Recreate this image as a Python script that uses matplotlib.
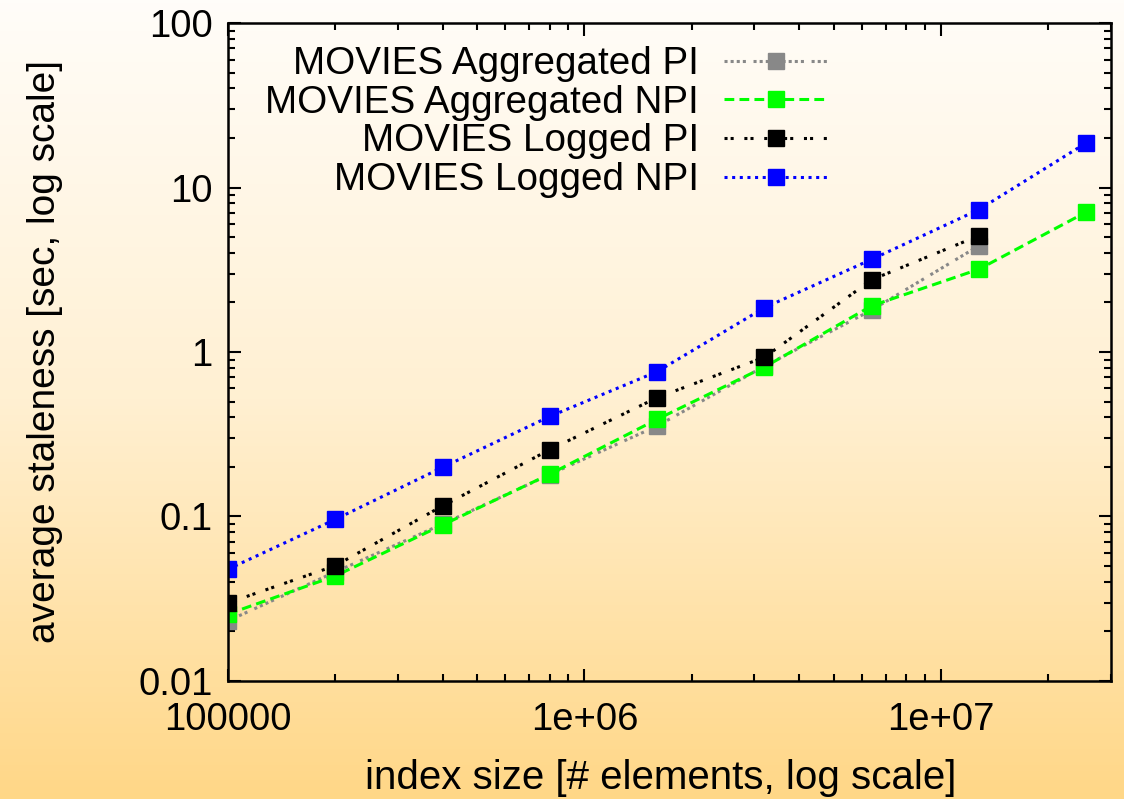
import numpy as np
import matplotlib
matplotlib.use("Agg")
from matplotlib import pyplot as plt
from matplotlib.colors import LinearSegmentedColormap

# index sizes (doubling from 100k)
index_size = [1e5, 2e5, 4e5, 8e5, 1.6e6, 3.2e6, 6.4e6, 1.28e7, 2.56e7]

# average staleness in seconds
agg_pi = [0.0232, 0.046, 0.090, 0.180, 0.355, 0.82, 1.80, 4.43]
agg_npi = [0.0255, 0.0435, 0.0888, 0.181, 0.39, 0.81, 1.91, 3.19, 7.1]
logged_pi = [0.0298, 0.0502, 0.116, 0.255, 0.528, 0.93, 2.75, 5.1]
logged_npi = [0.0478, 0.096, 0.199, 0.406, 0.76, 1.86, 3.66, 7.35, 18.7]

labels = ["MOVIES Aggregated PI", "MOVIES Aggregated NPI",
          "MOVIES Logged PI", "MOVIES Logged NPI"]

yticks = [0.01, 0.1, 1, 10, 100]
ytick_labels = ["0.01", "0.1", "1", "10", "100"]
xticks = [1e5, 1e6, 1e7]
xtick_labels = ["100000", "1e+06", "1e+07"]

plt.rcParams['font.family'] = ['Liberation Sans', 'DejaVu Sans']

fig = plt.figure(figsize=(11.24, 7.99), dpi=100)

# cream-to-orange background
bg = fig.add_axes([0, 0, 1, 1], zorder=-10)
grad = np.linspace(0, 1, 256).reshape(-1, 1)
cmap = LinearSegmentedColormap.from_list("bg", ["#fffdf9", "#fff0d2", "#ffd787"])
bg.imshow(grad, aspect="auto", cmap=cmap, extent=[0, 1, 0, 1], origin="upper")
bg.axis("off")

ax = fig.add_axes([0.2028, 0.1477, 0.7856, 0.8235])
ax.patch.set_alpha(0)

ms = 11.5
lw = 2.2
ax.plot(index_size[:len(agg_pi)], agg_pi, color="#888888",
        linestyle=(0, (1, 1, 1, 1, 1, 1, 1, 2.5)),
        lw=lw, marker="s", ms=ms, label=labels[0])
ax.plot(index_size[:len(agg_npi)], agg_npi, color="#00ff00", linestyle=(0, (3.2, 1.7)),
        lw=lw, marker="s", ms=ms, label=labels[1])
ax.plot(index_size[:len(logged_pi)], logged_pi, color="black", linestyle=(0, (1, 1, 1, 3.5)),
        lw=lw, marker="s", ms=ms, label=labels[2])
ax.plot(index_size[:len(logged_npi)], logged_npi, color="#0000ff", linestyle=(0, (1, 1.5)),
        lw=lw, marker="s", ms=ms, label=labels[3])

ax.set_xscale("log")
ax.set_yscale("log")
ax.set_xlim(1e5, 3e7)
ax.set_ylim(0.01, 100)
ax.set_xticks(xticks, xtick_labels)
ax.set_yticks(yticks, ytick_labels)

for s in ax.spines.values():
    s.set_linewidth(1.8)
ax.tick_params(which="both", direction="in", top=True, right=True, width=1.5)
ax.tick_params(which="major", length=9, labelsize=27.5)
ax.tick_params(axis="y", which="major", pad=11)
ax.tick_params(axis="x", which="major", pad=15)
ax.tick_params(which="minor", length=5)

ax.set_ylabel("average staleness [sec, log scale]", fontsize=28)
ax.yaxis.set_label_coords(-0.187, 0.5)
ax.set_xlabel("index size [# elements, log scale]", fontsize=29)
ax.xaxis.set_label_coords(0.49, -0.118)

ax.legend(loc="upper right", bbox_to_anchor=(0.680, 0.965), frameon=False,
          markerfirst=False, borderpad=0, borderaxespad=0, labelspacing=0.07,
          handlelength=2.7, handletextpad=0.65,
          prop={'size': 27.8})

fig.savefig("out.png", dpi=100)
